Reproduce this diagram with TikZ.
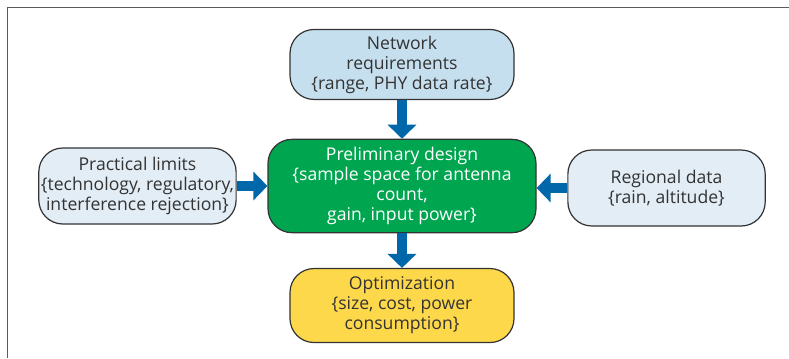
\documentclass[tikz,border=0pt]{standalone}
\usepackage{fontspec}
\setmainfont{Open Sans}
\usetikzlibrary{positioning, arrows.meta}
\definecolor{netblue}{RGB}{198,223,239}
\definecolor{paleblue}{RGB}{226,237,246}
\definecolor{designgreen}{RGB}{0,165,80}
\definecolor{optyellow}{RGB}{253,216,75}
\definecolor{flowblue}{RGB}{0,103,171}
\definecolor{boxline}{RGB}{51,51,51}
\definecolor{frameline}{RGB}{90,90,90}
\tikzset{
  % Rounded boxes
  stagebox/.style={
    draw=boxline, line width=0.9pt, rounded corners=18pt,
    align=center, font=\fontsize{13.2}{15}\selectfont,
    text=boxline, inner sep=1pt
  },
  inputbox/.style={
    stagebox, fill=paleblue,
    minimum width=148pt, minimum height=57pt
  },
  % Thick block arrows
  flow/.style={
    -{Triangle[width=21pt, length=10.5pt]},
    draw=flowblue, line width=7.5pt
  },
}

\begin{document}
\begin{tikzpicture}[x=0.75pt, y=0.75pt, node distance=26pt and 23pt]
  \useasboundingbox (0,-358) rectangle (789,0);

  %% ── Frame ──
  \draw[frameline, line width=1.1pt] (7.5,-358) -- (7.5,-7.5) -- (789,-7.5);

  %% ── Boxes ──
  \node[stagebox, fill=designgreen, text=white,
        minimum width=201pt, minimum height=70pt] (design) at (402,-186)
        {Preliminary design\\{\{}sample space for antenna\\count,\\gain, input power{\}}};
  \node[stagebox, fill=netblue, minimum width=168pt, minimum height=52.5pt,
        above=29pt of design] (network)
        {Network\\requirements\\{\{}range, PHY data rate{\}}};
  \node[stagebox, fill=optyellow, minimum width=168pt, minimum height=55.5pt,
        below=of design] (optim)
        {Optimization\\{\{}size, cost, power\\consumption{\}}};
  \node[inputbox, left=of design] (limits)
        {Practical limits\\{\{}technology, regulatory,\\interference rejection{\}}};
  \node[inputbox, right=of design, yshift=-1.5pt] (regional)
        {Regional data\\{\{}rain, altitude{\}}};

  %% ── Arrows ──
  \draw[flow] (network) -- (design);
  \draw[flow] (design) -- (optim);
  \draw[flow] (limits) -- (limits -| design.west);
  \draw[flow] (regional) -- (regional -| design.east);

\end{tikzpicture}
\end{document}
